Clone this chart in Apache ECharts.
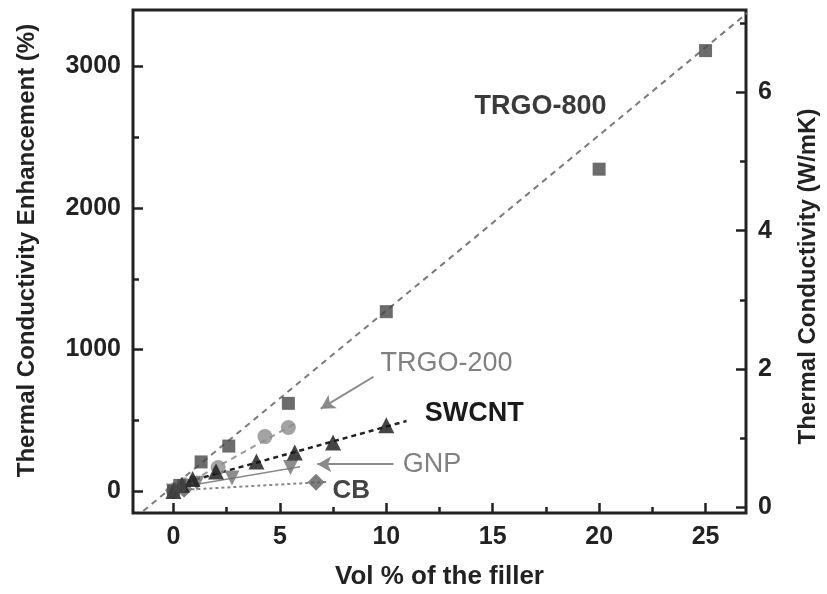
<!DOCTYPE html>
<html>
<head>
<meta charset="utf-8">
<script src="https://cdn.jsdelivr.net/npm/echarts@6/dist/echarts.min.js"></script>
<style>html,body{margin:0;padding:0;background:#fff;}#c{width:827px;height:594px;}</style>
</head>
<body>
<div id="c"></div>
<script>
// ---- data ----
const trgo800X = [0, 0.3, 1.3, 2.6, 5.4, 10, 20, 25];
const trgo800Y = [0, 40, 206, 318, 620, 1268, 2275, 3113];
const trgo200X = [0, 0.5, 2.1, 4.3, 5.4];
const trgo200Y = [0, 45, 167, 385, 449];
const swcntX = [0, 0.4, 0.9, 2.0, 3.9, 5.7, 7.5, 10];
const swcntY = [0, 45, 85, 139, 209, 272, 343, 465];
const gnpX = [0, 0.5, 1.1, 2.75, 5.5];
const gnpY = [0, 30, 55, 92, 167];
const cbX = [0, 0.5, 6.7];
const cbY = [5, 12, 63];
// dashed fit lines (end points)
const trgo800FitX = [-1.42, 26.97];
const trgo800FitY = [-141, 3380];
const trgo200FitX = [0, 5.8];
const trgo200FitY = [0, 484];
const swcntFitX = [-0.2, 10.95];
const swcntFitY = [30, 495];
const gnpFitX = [0, 5.95];
const gnpFitY = [20, 172];
const cbFitX = [0, 7.25];
const cbFitY = [5, 65];
// tick labels
const xTicks = [0, 5, 10, 15, 20, 25];
const xMinor = [2.5, 7.5, 12.5, 17.5, 22.5];
const yLeftTicks = [0, 1000, 2000, 3000];
const yLeftMinor = [500, 1500, 2500];
const yRightTicks = [0, 2, 4, 6];
const yRightMinor = [1, 3, 5, 7];

const zip = (a, b) => a.map((v, i) => [v, b[i]]);
const FONT = '"Liberation Sans", Arial, Helvetica, sans-serif';
const AX = '#222';
const plain = v => String(v);

function valAxis(extra) {
  return Object.assign({
    type: 'value',
    splitLine: { show: false },
    axisLine: { show: false, onZero: false },
  }, extra);
}

const xMin = -1.9, xMax = 26.9;
const yMin = -155, yMax = 3400;
const rMin = -0.082, rMax = 7.19;

const chart = echarts.init(document.getElementById('c'));
chart.setOption({
  animation: false,
  backgroundColor: '#fff',
  grid: { left: 133, right: 81, top: 10, bottom: 81, outerBoundsMode: 'none', containLabel: false,
    show: true, borderColor: AX, borderWidth: 3, backgroundColor: 'transparent' },
  xAxis: [
    valAxis({
      min: xMin, max: xMax, position: 'bottom',
      name: 'Vol % of the filler', nameLocation: 'middle', nameGap: 51,
      nameTextStyle: { fontFamily: FONT, fontWeight: 'bold', fontSize: 26, color: AX },
      axisTick: { show: true, inside: true, length: 10, lineStyle: { color: AX, width: 2.5 }, customValues: xTicks },
      axisLabel: { show: true, customValues: xTicks, formatter: plain, margin: 12, fontFamily: FONT, fontWeight: 'bold', fontSize: 25, color: AX }
    }),
    valAxis({
      min: xMin, max: xMax, position: 'bottom',
      axisTick: { show: true, inside: true, length: 6, lineStyle: { color: AX, width: 2.5 }, customValues: xMinor },
      axisLabel: { show: false, customValues: xMinor }
    })
  ],
  yAxis: [
    valAxis({
      min: yMin, max: yMax, position: 'left',
      name: 'Thermal Conductivity Enhancement (%)', nameLocation: 'middle', nameGap: 94,
      nameTextStyle: { fontFamily: FONT, fontWeight: 'bold', fontSize: 24, color: AX, padding: [0, 0, 0, 22] },
      axisTick: { show: true, inside: true, length: 10, lineStyle: { color: AX, width: 2.5 }, customValues: yLeftTicks },
      axisLabel: { show: true, customValues: yLeftTicks, formatter: plain, margin: 12, fontFamily: FONT, fontWeight: 'bold', fontSize: 25, color: AX }
    }),
    valAxis({
      min: rMin, max: rMax, position: 'right',
      name: 'Thermal Conductivity (W/mK)', nameLocation: 'middle', nameGap: 50,
      nameTextStyle: { fontFamily: FONT, fontWeight: 'bold', fontSize: 24, color: AX, padding: [0, 30, 0, 0] },
      axisTick: { show: true, inside: true, length: 10, lineStyle: { color: AX, width: 2.5 }, customValues: yRightTicks },
      axisLabel: { show: true, customValues: yRightTicks, formatter: plain, margin: 12, fontFamily: FONT, fontWeight: 'bold', fontSize: 25, color: AX }
    }),
    valAxis({
      min: yMin, max: yMax, position: 'left',
      axisTick: { show: true, inside: true, length: 6, lineStyle: { color: AX, width: 2.5 }, customValues: yLeftMinor },
      axisLabel: { show: false, customValues: yLeftMinor }
    }),
    valAxis({
      min: rMin, max: rMax, position: 'right',
      axisTick: { show: true, inside: true, length: 6, lineStyle: { color: AX, width: 2.5 }, customValues: yRightMinor },
      axisLabel: { show: false, customValues: yRightMinor }
    })
  ],
  series: [
    { type: 'line', data: zip(trgo800FitX, trgo800FitY), symbol: 'none', clip: true, z: 1,
      lineStyle: { color: '#7a7a7a', width: 2, type: [6, 5] } },
    { type: 'line', data: zip(trgo200FitX, trgo200FitY), symbol: 'none', z: 1,
      lineStyle: { color: '#9a9a9a', width: 2, type: [6, 5] } },
    { type: 'line', data: zip(swcntFitX, swcntFitY), symbol: 'none', z: 1,
      lineStyle: { color: '#222', width: 2.5, type: [5, 4] },
      markPoint: { symbol: 'rect', symbolSize: 1, itemStyle: { color: 'rgba(0,0,0,0)' },
        label: { show: true, position: 'inside', formatter: 'SWCNT', fontFamily: FONT, fontWeight: 'bold', fontSize: 27, color: '#1a1a1a' },
        data: [{ coord: [14.13, 549] }] } },
    { type: 'line', data: zip(gnpFitX, gnpFitY), symbol: 'none', z: 1,
      lineStyle: { color: '#8a8a8a', width: 1.5 },
      markLine: { silent: true, symbol: ['none', 'arrow'], symbolSize: [12, 14], label: { show: false },
        lineStyle: { color: '#8a8a8a', width: 2, type: 'solid' },
        data: [[{ coord: [10.34, 190] }, { coord: [6.76, 190] }], [{ coord: [9.40, 808] }, { coord: [6.92, 582] }]] },
      markPoint: { symbol: 'rect', symbolSize: 1, itemStyle: { color: 'rgba(0,0,0,0)' },
        label: { show: true, position: 'inside', fontFamily: FONT, fontSize: 27, color: '#808080' },
        data: [{ coord: [12.15, 190], label: { formatter: 'GNP' } }, { coord: [12.83, 901], label: { formatter: 'TRGO-200' } }] } },
    { type: 'line', data: zip(cbFitX, cbFitY), symbol: 'none', z: 1,
      lineStyle: { color: '#888', width: 2, type: [3, 3] },
      markPoint: { symbol: 'rect', symbolSize: 1, itemStyle: { color: 'rgba(0,0,0,0)' },
        label: { show: true, position: 'inside', fontFamily: FONT, fontWeight: 'bold', fontSize: 26, color: '#444' },
        data: [{ coord: [8.35, 2], label: { formatter: 'CB' } }, { coord: [17.25, 2718], label: { formatter: 'TRGO-800', fontSize: 27, color: '#3a3a3a' } }] } },
    { type: 'scatter', data: zip(cbX, cbY), symbol: 'diamond', symbolSize: 17, z: 3, itemStyle: { color: '#5c5c5c' } },
    { type: 'scatter', data: zip(gnpX, gnpY), symbol: 'triangle', symbolRotate: 180, symbolSize: 15, z: 3, itemStyle: { color: '#707070' } },
    { type: 'scatter', data: zip(trgo200X, trgo200Y), symbol: 'circle', symbolSize: 15, z: 3, itemStyle: { color: '#8c8c8c' } },
    { type: 'scatter', data: zip(swcntX, swcntY), symbol: 'triangle', symbolSize: 16, z: 4, itemStyle: { color: '#151515' } },
    { type: 'scatter', data: zip(trgo800X, trgo800Y), symbol: 'rect', symbolSize: 13, z: 4, itemStyle: { color: '#474747' } }
  ]
});
</script>
</body>
</html>
